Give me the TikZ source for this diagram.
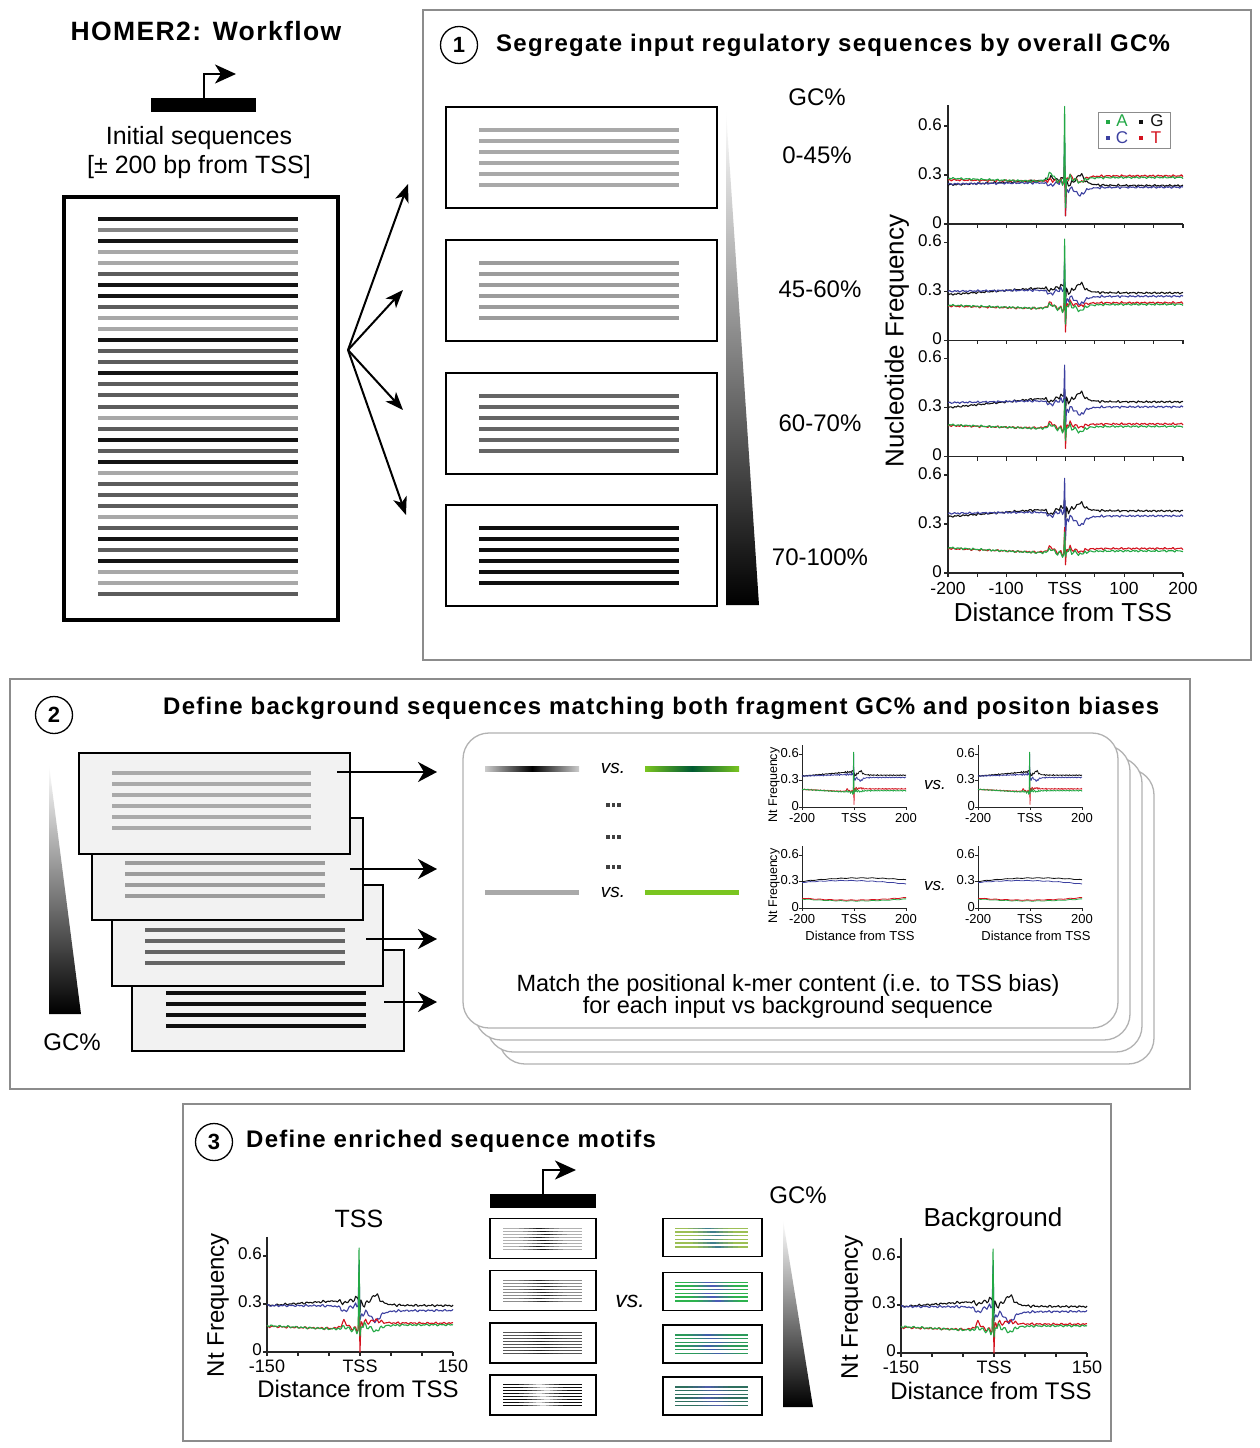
\documentclass[tikz,border=0pt]{standalone}
\usepackage{fontspec}
\setmainfont{Liberation Sans}
\newfontfamily\tfont{Liberation Sans}[LetterSpace=5.2]
\usetikzlibrary{arrows.meta}
\newcommand\myfs[1]{\fontsize{#1}{#1}\selectfont}
\definecolor{ntA}{HTML}{22A845}
\definecolor{ntC}{HTML}{3C40A0}
\definecolor{ntG}{HTML}{111111}
\definecolor{ntT}{HTML}{D4121E}
\definecolor{seqk}{HTML}{141414}
\definecolor{seqd}{HTML}{5C5C5C}
\definecolor{seqm}{HTML}{858585}
\definecolor{seql}{HTML}{A8A8A8}
\definecolor{bx1}{HTML}{A9A9A9}
\definecolor{bx2}{HTML}{9C9C9C}
\definecolor{bx3}{HTML}{656565}
\definecolor{bx4}{HTML}{0F0F0F}
\definecolor{grn}{HTML}{7AC520}
\definecolor{dgrn}{HTML}{005A32}
\definecolor{lbo1}{HTML}{B0B0B0}\definecolor{lbm1}{HTML}{1A1A1A}
\definecolor{lbo2}{HTML}{8C8C8C}\definecolor{lbm2}{HTML}{262626}
\definecolor{lbo3}{HTML}{555555}\definecolor{lbm3}{HTML}{222222}
\definecolor{lbo4}{HTML}{0D0D0D}\definecolor{lbm4}{HTML}{D0D0D0}
\definecolor{gbo1}{HTML}{9CBF55}\definecolor{gbm1}{HTML}{3F7E8C}
\definecolor{gbo2}{HTML}{2DB24E}\definecolor{gbm2}{HTML}{4A5CB4}
\definecolor{gbo3}{HTML}{2B9A5A}\definecolor{gbm3}{HTML}{3F5FA8}
\definecolor{gbo4}{HTML}{2F6F5F}\definecolor{gbm4}{HTML}{4E5EA6}
\def\ph{0}
\def\wig{(0.004*sin(53*\x+\ph)+0.003*sin(29*\x+2*\ph)+0.025/(1+(\x/18)^2)*sin(41*\x+\ph))}
% color, L, M, bumpL, spike1, spike2, R, bumpR, phase
\newcommand\ntc[9]{%
 \def\ph{#9}%
 \draw[#1,cv] plot[domain=\xl:-5,samples=70] (\x,{#2+(#3-(#2))*(\x-(\xl))/(-5-(\xl))+(#4)/(1+((\x+25)/5)^2)+\wig})
  -- (-3,#3) -- (-1.5,#5) -- (0,#6) -- (1.5,{#7+0.5*(#8)}) -- (3,{#7+0.3*(#8)})
  -- plot[domain=5:\xr,samples=70] (\x,{#7+(#8)/(1+((\x-25)/8)^2)+\wig});}
\newcommand\smc[4]{\draw[#1,cv] plot[domain=\xl:\xr,samples=50] (\x,{#3+((#4)-(#2))/400*\x+(((#2)+(#4))/2-(#3))*(\x/200)^2+0.003*sin(53*\x)});}
\newcommand\axA{%
 \draw[axln] (\xl,0) -- (\xr,0);
 \foreach \tt in {-200,-150,...,200} \draw[axln] (\tt,0) -- +(0pt,-4pt);
 \foreach \vv in {0,0.3,0.6} {\draw[axln] (\xl,\vv) -- +(-4pt,0pt);
  \node[anchor=east,font=\myfs{17},inner sep=0pt,xshift=-6pt,yshift=1.5pt] at (\xl,\vv) {\vv};}}
\newcommand\axB{%
 \draw[axln,line width=0.9pt] (\xl,0.7) -- (\xl,0) -- (\xr,0);
 \foreach \tt in {-200,0,200} \draw[axln,line width=0.9pt] (\tt,0) -- +(0pt,-3pt);
 \foreach \vv in {0,0.3,0.6} {\draw[axln,line width=0.9pt] (\xl,\vv) -- +(-3pt,0pt);
  \node[anchor=east,font=\myfs{13},inner sep=0pt,xshift=-3pt,yshift=1pt] at (\xl,\vv) {\vv};}
 \foreach \tt/\lab in {-200/-200,0/TSS,200/200}
  \node[anchor=north,font=\myfs{13},inner sep=0pt,yshift=-6pt] at (\tt,0) {\lab};}
\newcommand\axC{%
 \draw[axln] (\xl,0.72) -- (\xl,0) -- (\xr,0);
 \foreach \tt in {-150,-100,...,150} \draw[axln] (\tt,0) -- +(0pt,-4pt);
 \foreach \vv in {0,0.3,0.6} {\draw[axln] (\xl,\vv) -- +(-4pt,0pt);
  \node[anchor=east,font=\myfs{17},inner sep=0pt,xshift=-5pt,yshift=2pt] at (\xl,\vv) {\vv};}
 \foreach \tt/\lab in {-150/-150,0/TSS,150/150}
  \node[anchor=north,font=\myfs{18},inner sep=0pt,yshift=-7.5pt] at (\tt,0) {\lab};}
\newcommand\tsscurves{%
 \ntc{ntG}{0.29}{0.33}{-0.02}{0.38}{0.25}{0.29}{0.07}{0}
 \ntc{ntC}{0.29}{0.29}{-0.04}{0.55}{0.20}{0.26}{-0.07}{40}
 \ntc{ntT}{0.16}{0.14}{0.05}{0.30}{0.0}{0.18}{0.02}{80}
 \ntc{ntA}{0.165}{0.135}{0.02}{0.65}{0.10}{0.17}{-0.04}{120}}
% gradient line: outer colour, centre colour, x0, x1, centre x, y, width
\newcommand\gline[7]{%
 \draw[line width=#7,#1] (#3,#6) -- (#4,#6);
 \foreach \w/\p in {20/20,15/40,10/60,6/80,3/100}
  \draw[line width=#7,#2!\p!#1] ({#5-\w},#6) -- ({#5+\w},#6);}
\begin{document}
\begin{tikzpicture}[x=1pt,y=-1pt,
 axln/.style={line width=1.2pt,black!85},
 cv/.style={line width=1.1pt,line join=round},
 panelbox/.style={draw=black!45,line width=1.5pt},
 seqbox/.style={draw=black,line width=2.5pt},
 stackbox/.style={draw=black,line width=2pt,fill=black!5},
 card/.style={draw=black!30,line width=1.3pt,fill=white,rounded corners=26pt},
 fanarr/.style={line width=2pt,-{Stealth[length=18pt,width=14pt,inset=5pt]}},
 rarr/.style={line width=2pt,-{Stealth[length=19pt,width=20pt,inset=6pt]}},
 tssarr/.style={line width=2pt,-{Stealth[length=21pt,width=19pt,inset=6pt]}},
 lbl/.style={inner sep=0pt},
 ttl/.style={inner sep=0pt,font=\tfont\bfseries\myfs{24}},
 numc/.style={circle,draw,line width=1.3pt,minimum size=37pt,inner sep=0pt,font=\bfseries\myfs{22}},
 dot/.style={fill=black!75,inner sep=0pt,minimum size=3.2pt},
]
\fill[white] (0,0) rectangle (1260,1448);
\useasboundingbox (0,0) rectangle (1260,1448);

% ---------------- top left
\node[lbl,font={\tfont\bfseries\myfs{26.5}}] (title) at (206,31) {HOMER2: Workflow};
\node[fill=black,minimum width=105pt,minimum height=14pt,inner sep=0pt] (bar1) at (203.5,105) {};
\coordinate (bend1) at (204,74);
\coordinate (tip1) at (236,74);
\draw[tssarr] (bar1.north -| bend1) -- (bend1) -- (tip1);
\node[lbl,font=\myfs{25}] (init1) at (199,138) {Initial sequences};
\node[lbl,font=\myfs{25}] (init2) at (199,167) {[± 200 bp from TSS]};
\node[draw,line width=4pt,minimum width=274pt,minimum height=423pt,inner sep=0pt] (bigbox) at (201,408.5) {};
\foreach \c [count=\i from 0] in {k,m,k,l,l,d,k,k,d,l,l,k,d,d,k,d,d,d,l,d,k,d,k,l,d,d,d,l,d,k,d,k,l,l,d}
 \draw[line width=4pt,seq\c] (98,{219+11.03*\i}) -- (298,{219+11.03*\i});
\coordinate (fan) at (348,350);
\coordinate (f1) at (408,184);
\coordinate (f2) at (403,290);
\coordinate (f3) at (403,410);
\coordinate (f4) at (406,515);
\foreach \f in {f1,f2,f3,f4} \draw[fanarr] (fan) -- (\f);

% ---------------- panel 1
\draw[panelbox] (423,10) rectangle (1251,660);
\node[numc] (n1) at (459,45) {1};
\node[ttl,anchor=west] (t1) at (496,45) {Segregate input regulatory sequences by overall GC\%};
\foreach \yb/\c in {107/bx1,240/bx2,373/bx3,505/bx4}{
 \draw[seqbox] (446,\yb) rectangle (717,{\yb+101});
 \foreach \j in {0,...,5} \draw[line width=4pt,\c] (479,{\yb+23+11*\j}) -- (679,{\yb+23+11*\j});}
\shade[top color=white,bottom color=black] (726,111) -- (726,605) -- (759,605) -- cycle;
\node[lbl,font=\myfs{24}] (gc1) at (817,97) {GC\%};
\node[lbl,font=\myfs{24}] (g1) at (817,155) {0-45\%};
\node[lbl,font=\myfs{24}] (g2) at (820,289) {45-60\%};
\node[lbl,font=\myfs{24}] (g3) at (820,423) {60-70\%};
\node[lbl,font=\myfs{24}] (g4) at (820,557) {70-100\%};
\draw[axln] (948,105) -- (948,573);
\def\xl{-200}\def\xr{200}
\begin{scope}[shift={(1065.5,224)},x=0.5875pt,y=163.3pt]
 \axA
 \ntc{ntG}{0.24}{0.27}{0.02}{0.30}{0.20}{0.235}{0.07}{0}
 \ntc{ntC}{0.245}{0.255}{-0.02}{0.53}{0.05}{0.225}{-0.05}{40}
 \ntc{ntT}{0.27}{0.26}{0.01}{0.38}{0.05}{0.295}{-0.04}{80}
 \ntc{ntA}{0.28}{0.255}{0.06}{0.72}{0.10}{0.285}{-0.03}{120}
\end{scope}
\begin{scope}[shift={(1065.5,340.3)},x=0.5875pt,y=163.3pt]
 \axA
 \ntc{ntG}{0.28}{0.33}{-0.02}{0.36}{0.22}{0.29}{0.06}{10}
 \ntc{ntC}{0.30}{0.31}{-0.03}{0.50}{0.10}{0.27}{-0.05}{50}
 \ntc{ntT}{0.21}{0.19}{0.04}{0.30}{0.05}{0.23}{-0.02}{90}
 \ntc{ntA}{0.215}{0.19}{0.03}{0.62}{0.10}{0.22}{-0.04}{130}
\end{scope}
\begin{scope}[shift={(1065.5,456.6)},x=0.5875pt,y=163.3pt]
 \axA
 \ntc{ntG}{0.30}{0.37}{-0.03}{0.41}{0.26}{0.335}{0.06}{20}
 \ntc{ntC}{0.33}{0.345}{-0.03}{0.56}{0.15}{0.305}{-0.05}{60}
 \ntc{ntT}{0.19}{0.17}{0.04}{0.30}{0.05}{0.20}{-0.02}{100}
 \ntc{ntA}{0.195}{0.165}{0.03}{0.35}{0.10}{0.185}{-0.035}{140}
\end{scope}
\begin{scope}[shift={(1065.5,573)},x=0.5875pt,y=163.3pt]
 \axA
 \ntc{ntG}{0.345}{0.40}{-0.04}{0.46}{0.28}{0.38}{0.05}{30}
 \ntc{ntC}{0.365}{0.375}{-0.03}{0.58}{0.20}{0.35}{-0.06}{70}
 \ntc{ntT}{0.15}{0.12}{0.04}{0.28}{0.05}{0.15}{-0.02}{110}
 \ntc{ntA}{0.155}{0.115}{0.03}{0.25}{0.10}{0.135}{-0.02}{150}
\end{scope}
\foreach \xx/\lab in {948/-200,1006/-100,1065/TSS,1124/100,1183/200}
 \node[lbl,font=\myfs{17.5}] at (\xx,588) {\lab};
\node[lbl,font=\myfs{26}] (dist1) at (1063,612) {Distance from TSS};
\node[lbl,font=\myfs{26},rotate=90] (nf1) at (897,341) {Nucleotide Frequency};
\draw[draw=black!45,line width=1pt,fill=white] (1098,112) rectangle (1170,148);
\fill[ntA] (1106,120) rectangle (1110,124);
\fill[ntG] (1139,120) rectangle (1143,124);
\fill[ntC] (1106,136) rectangle (1110,140);
\fill[ntT] (1139,136) rectangle (1143,140);
\node[lbl,font=\myfs{17},text=ntA] (lA) at (1122,121) {A};
\node[lbl,font=\myfs{17},text=ntG] (lG) at (1157,121) {G};
\node[lbl,font=\myfs{17},text=ntC] (lC) at (1122,138) {C};
\node[lbl,font=\myfs{17},text=ntT] (lT) at (1156,138) {T};

% ---------------- panel 2
\draw[panelbox] (10,679) rectangle (1190,1089);
\node[numc] (n2) at (54,715) {2};
\node[ttl,anchor=west] (t2) at (163,708) {Define background sequences matching both fragment GC\% and positon biases};
\shade[top color=white,bottom color=black] (49,765) -- (49,1014) -- (81,1014) -- cycle;
\node[lbl,font=\myfs{24}] (gc2) at (72,1042) {GC\%};
\draw[stackbox] (132,950) rectangle (404,1051);
\foreach \j in {0,...,3} \draw[line width=4pt,bx4] (166,{993+11*\j}) -- (366,{993+11*\j});
\draw[stackbox] (112,885) rectangle (383,986);
\foreach \j in {0,...,3} \draw[line width=4pt,bx3] (145,{930+11*\j}) -- (345,{930+11*\j});
\draw[stackbox] (92,818) rectangle (363,920);
\foreach \j in {0,...,3} \draw[line width=4pt,bx2] (125,{863+11*\j}) -- (325,{863+11*\j});
\draw[stackbox] (79,753) rectangle (350,854);
\foreach \j in {0,...,5} \draw[line width=4pt,bx1] (112,{773+11*\j}) -- (311,{773+11*\j});
\coordinate (sa) at (337,772); \coordinate (ea) at (437,772);
\coordinate (sb) at (350,869); \coordinate (eb) at (437,869);
\coordinate (sc) at (366,939); \coordinate (ec) at (437,939);
\coordinate (sd) at (384,1002); \coordinate (ed) at (437,1002);
\draw[rarr] (sa) -- (ea);
\draw[rarr] (sb) -- (eb);
\draw[rarr] (sc) -- (ec);
\draw[rarr] (sd) -- (ed);
\foreach \k in {3,2,1,0}
 \draw[card] ({463+12*\k},{733+12*\k}) rectangle ({1118+12*\k},{1028+12*\k});
\shade[left color=black!20,right color=black!20,middle color=black] (485,766.5) rectangle (579,771.5);
\shade[left color=grn,right color=grn,middle color=dgrn] (645,766.5) rectangle (739,771.5);
\fill[bx1] (485,889.5) rectangle (579,894.5);
\fill[grn] (645,889.5) rectangle (739,894.5);
\node[lbl,font=\itshape\myfs{19}] (vs1) at (613,768) {vs.};
\node[lbl,font=\itshape\myfs{19}] (vs2) at (613,892) {vs.};
\foreach \yy [count=\r] in {805,837,867}
 \foreach \xx [count=\s] in {608,613.5,619}
  \node[dot] (dot\r\s) at (\xx,\yy) {};
\begin{scope}[shift={(854,807)},x=0.26pt,y=88.3pt,cv/.append style={line width=0.8pt}]
 \axB
 \ntc{ntG}{0.35}{0.40}{0}{0.45}{0.33}{0.36}{0.05}{0}
 \ntc{ntC}{0.35}{0.37}{0}{0.60}{0.30}{0.335}{-0.04}{40}
 \ntc{ntT}{0.20}{0.17}{0.03}{0.30}{0.03}{0.205}{0.01}{80}
 \ntc{ntA}{0.20}{0.165}{0.01}{0.62}{0.15}{0.185}{-0.01}{120}
\end{scope}
\begin{scope}[shift={(1030,807)},x=0.26pt,y=88.3pt,cv/.append style={line width=0.8pt}]
 \axB
 \ntc{ntG}{0.35}{0.40}{0}{0.45}{0.33}{0.36}{0.05}{0}
 \ntc{ntC}{0.35}{0.37}{0}{0.60}{0.30}{0.335}{-0.04}{40}
 \ntc{ntT}{0.20}{0.17}{0.03}{0.30}{0.03}{0.205}{0.01}{80}
 \ntc{ntA}{0.20}{0.165}{0.01}{0.62}{0.15}{0.185}{-0.01}{120}
\end{scope}
\begin{scope}[shift={(854,908)},x=0.26pt,y=88.3pt,cv/.append style={line width=0.8pt}]
 \axB
 \smc{ntG}{0.30}{0.34}{0.32}
 \smc{ntC}{0.29}{0.31}{0.27}
 \smc{ntA}{0.105}{0.08}{0.10}
 \smc{ntT}{0.11}{0.09}{0.12}
\end{scope}
\begin{scope}[shift={(1030,908)},x=0.26pt,y=88.3pt,cv/.append style={line width=0.8pt}]
 \axB
 \smc{ntG}{0.30}{0.34}{0.32}
 \smc{ntC}{0.29}{0.31}{0.27}
 \smc{ntA}{0.105}{0.08}{0.10}
 \smc{ntT}{0.11}{0.09}{0.12}
\end{scope}
\node[lbl,font=\myfs{12.5},rotate=90] (nt2a) at (774,785) {Nt Frequency};
\node[lbl,font=\myfs{12.5},rotate=90] (nt2b) at (774,886) {Nt Frequency};
\node[lbl,font=\myfs{13}] (dst2a) at (860,936) {Distance from TSS};
\node[lbl,font=\myfs{13}] (dst2b) at (1036,936) {Distance from TSS};
\node[lbl,font=\itshape\myfs{17}] (vs3) at (935,785) {vs.};
\node[lbl,font=\itshape\myfs{17}] (vs4) at (935,886) {vs.};
\node[lbl,font=\fontsize{23.5}{22}\selectfont,align=center] (match) at (788,996) {Match the positional k-mer content (i.e. to TSS bias)\\for each input vs background sequence};

% ---------------- panel 3
\draw[panelbox] (183,1104) rectangle (1111,1441);
\node[numc] (n3) at (214,1142) {3};
\node[ttl,anchor=west] (t3) at (246,1141) {Define enriched sequence motifs};
\node[lbl,font=\myfs{25}] (tsslab) at (359,1219) {TSS};
\node[lbl,font=\myfs{26}] (bglab) at (993,1220) {Background};
\def\xl{-150}\def\xr{150}
\begin{scope}[shift={(360,1352)},x=0.62pt,y=160pt]
 \axC
 \tsscurves
\end{scope}
\begin{scope}[shift={(994,1353)},x=0.62pt,y=160pt]
 \axC
 \tsscurves
\end{scope}
\node[lbl,font=\myfs{24}] (dst3a) at (358,1389) {Distance from TSS};
\node[lbl,font=\myfs{24}] (dst3b) at (991,1391) {Distance from TSS};
\node[lbl,font=\myfs{24},rotate=90] (nt3a) at (218,1305) {Nt Frequency};
\node[lbl,font=\myfs{24},rotate=90] (nt3b) at (852,1307) {Nt Frequency};
\node[fill=black,minimum width=106pt,minimum height=14pt,inner sep=0pt] (bar3) at (543,1201) {};
\coordinate (bend3) at (543,1170);
\coordinate (tip3) at (576,1170);
\draw[tssarr] (bar3.north -| bend3) -- (bend3) -- (tip3);
\foreach \yb/\k in {1218.5/1,1270.5/2,1323/3,1375/4}{
 \draw[line width=1.5pt] (490,\yb) rectangle (596,{\yb+40});
 \foreach \j in {0,...,7}{
  \pgfmathsetmacro\ly{\yb+9.5+3*\j}
  \pgfmathsetmacro\lc{539+4*mod(\j,3)}
  \gline{lbo\k}{lbm\k}{503}{582}{\lc}{\ly}{1pt}}}
\node[lbl,font=\itshape\myfs{23}] (vs5) at (630,1301) {vs.};
\foreach \yb/\k in {1218.5/1,1272.5/2,1325/3,1377/4}{
 \draw[line width=1.5pt] (663,\yb) rectangle (762,{\yb+38});
 \foreach \j in {0,...,5}{
  \pgfmathsetmacro\ly{\yb+9.8+3.7*\j}
  \pgfmathsetmacro\lc{708+5*mod(\j,3)}
  \gline{gbo\k}{gbm\k}{675}{748}{\lc}{\ly}{1.4pt}}}
\shade[top color=white,bottom color=black] (783,1220) -- (783,1407) -- (813,1407) -- cycle;
\node[lbl,font=\myfs{24}] (gc3) at (798,1195) {GC\%};
\end{tikzpicture}
\end{document}
